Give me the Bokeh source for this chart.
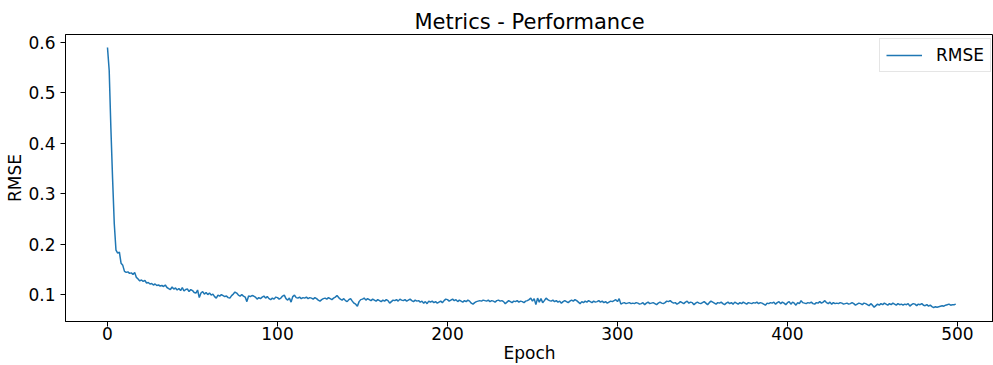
from bokeh.plotting import figure
from bokeh.models import Range1d, Legend, LegendItem, ColumnDataSource, FixedTicker
from bokeh.embed import file_html
from bokeh.resources import INLINE

title_text = "Metrics - Performance"
x_label = "Epoch"
y_label = "RMSE"
series_name = "RMSE"
x_ticks = [0, 100, 200, 300, 400, 500]
y_ticks = [0.1, 0.2, 0.3, 0.4, 0.5, 0.6]

rmse_000_099 = [
    0.590, 0.545, 0.430, 0.330, 0.240, 0.188, 0.182, 0.184, 0.162, 0.158,
    0.146, 0.144, 0.145, 0.142, 0.143, 0.140, 0.144, 0.134, 0.131, 0.127,
    0.129, 0.126, 0.128, 0.123, 0.124, 0.121, 0.122, 0.119, 0.121, 0.118,
    0.119, 0.117, 0.118, 0.116, 0.119, 0.114, 0.112, 0.110, 0.115, 0.111,
    0.113, 0.109, 0.112, 0.108, 0.114, 0.107, 0.110, 0.111, 0.106, 0.110,
    0.108, 0.104, 0.103, 0.109, 0.094, 0.103, 0.106, 0.101, 0.104, 0.100,
    0.103, 0.099, 0.101, 0.096, 0.093, 0.099, 0.097, 0.100, 0.098, 0.096,
    0.097, 0.094, 0.093, 0.098, 0.101, 0.105, 0.103, 0.099, 0.097, 0.100,
    0.097, 0.095, 0.086, 0.097, 0.096, 0.098, 0.097, 0.095, 0.091, 0.094,
    0.092, 0.095, 0.097, 0.093, 0.096, 0.092, 0.090, 0.093, 0.091, 0.095,
]
rmse_100_199 = [
    0.094, 0.091, 0.093, 0.097, 0.099, 0.092, 0.089, 0.093, 0.085, 0.096,
    0.099, 0.094, 0.093, 0.095, 0.092, 0.094, 0.093, 0.095, 0.092, 0.094,
    0.093, 0.091, 0.094, 0.092, 0.089, 0.087, 0.090, 0.092, 0.093, 0.091,
    0.094, 0.092, 0.090, 0.093, 0.095, 0.098, 0.094, 0.091, 0.089, 0.092,
    0.088, 0.086, 0.090, 0.092, 0.087, 0.083, 0.081, 0.077, 0.086, 0.090,
    0.091, 0.093, 0.089, 0.092, 0.090, 0.088, 0.091, 0.089, 0.087, 0.090,
    0.088, 0.086, 0.089, 0.087, 0.090, 0.088, 0.083, 0.086, 0.089, 0.088,
    0.090, 0.087, 0.091, 0.089, 0.088, 0.090, 0.087, 0.089, 0.091, 0.088,
    0.086, 0.089, 0.087, 0.088, 0.085, 0.087, 0.083, 0.086, 0.082, 0.087,
    0.085, 0.087, 0.084, 0.086, 0.083, 0.085, 0.087, 0.084, 0.088, 0.091,
]
rmse_200_299 = [
    0.090, 0.087, 0.089, 0.091, 0.088, 0.090, 0.086, 0.089, 0.087, 0.085,
    0.088, 0.086, 0.089, 0.087, 0.083, 0.081, 0.084, 0.086, 0.087, 0.088,
    0.087, 0.089, 0.088, 0.087, 0.089, 0.086, 0.088, 0.087, 0.085, 0.088,
    0.089, 0.087, 0.088, 0.086, 0.082, 0.085, 0.088, 0.086, 0.084, 0.087,
    0.086, 0.088, 0.085, 0.087, 0.086, 0.084, 0.087, 0.088, 0.090, 0.093,
    0.087, 0.092, 0.080, 0.093, 0.085, 0.092, 0.084, 0.088, 0.093, 0.090,
    0.088, 0.087, 0.089, 0.086, 0.088, 0.085, 0.087, 0.083, 0.086, 0.088,
    0.086, 0.084, 0.087, 0.089, 0.087, 0.090, 0.088, 0.085, 0.082, 0.086,
    0.084, 0.087, 0.085, 0.088, 0.086, 0.084, 0.087, 0.085, 0.086, 0.088,
    0.085, 0.087, 0.084, 0.086, 0.083, 0.085, 0.087, 0.086, 0.088, 0.090,
]
rmse_300_399 = [
    0.086, 0.092, 0.081, 0.083, 0.084, 0.082, 0.083, 0.084, 0.082, 0.083,
    0.082, 0.084, 0.083, 0.081, 0.082, 0.084, 0.080, 0.083, 0.085, 0.082,
    0.083, 0.084, 0.082, 0.080, 0.083, 0.085, 0.083, 0.082, 0.084, 0.087,
    0.086, 0.088, 0.085, 0.083, 0.084, 0.081, 0.083, 0.086, 0.084, 0.082,
    0.085, 0.087, 0.083, 0.085, 0.084, 0.080, 0.083, 0.085, 0.083, 0.082,
    0.084, 0.086, 0.083, 0.080, 0.084, 0.087, 0.085, 0.083, 0.081, 0.084,
    0.083, 0.085, 0.082, 0.080, 0.083, 0.085, 0.082, 0.084, 0.081, 0.085,
    0.083, 0.081, 0.084, 0.082, 0.085, 0.083, 0.081, 0.084, 0.083, 0.082,
    0.084, 0.083, 0.085, 0.082, 0.084, 0.083, 0.081, 0.079, 0.083, 0.082,
    0.084, 0.083, 0.085, 0.081, 0.084, 0.086, 0.082, 0.085, 0.083, 0.080,
]
rmse_400_499 = [
    0.084, 0.086, 0.081, 0.085, 0.083, 0.079, 0.084, 0.082, 0.088, 0.084,
    0.083, 0.082, 0.084, 0.083, 0.085, 0.082, 0.081, 0.084, 0.083, 0.086,
    0.083, 0.085, 0.088, 0.084, 0.082, 0.085, 0.081, 0.084, 0.082, 0.083,
    0.082, 0.084, 0.083, 0.081, 0.082, 0.083, 0.081, 0.082, 0.084, 0.082,
    0.079, 0.081, 0.083, 0.082, 0.080, 0.083, 0.082, 0.080, 0.078, 0.082,
    0.079, 0.075, 0.078, 0.081, 0.079, 0.082, 0.080, 0.083, 0.081, 0.079,
    0.082, 0.080, 0.083, 0.081, 0.079, 0.082, 0.080, 0.081, 0.079, 0.081,
    0.080, 0.082, 0.077, 0.080, 0.082, 0.081, 0.078, 0.081, 0.080, 0.082,
    0.079, 0.078, 0.080, 0.077, 0.079, 0.076, 0.074, 0.076, 0.075, 0.076,
    0.077, 0.078, 0.077, 0.079, 0.080, 0.081, 0.079, 0.080, 0.080, 0.081,
]

rmse = rmse_000_099 + rmse_100_199 + rmse_200_299 + rmse_300_399 + rmse_400_499
epochs = list(range(len(rmse)))

FONT = "DejaVu Sans"
FS = "17px"

X0, X1 = -24.7, 521.2
Y0, Y1 = 0.0466, 0.6158

p = figure(
    width=993, height=365,
    output_backend="svg", toolbar_location=None,
    x_range=Range1d(X0, X1), y_range=Range1d(Y0, Y1),
    min_border_left=65, min_border_right=0, min_border_top=34, min_border_bottom=43,
)
p.title.text = title_text
p.title.align = "center"
p.title.text_font = FONT
p.title.text_font_size = "21px"
p.title.text_font_style = "normal"
p.title.text_color = "black"
p.title.standoff = 2

src = ColumnDataSource(dict(x=epochs, y=rmse))
r = p.line("x", "y", source=src, line_color="#1f77b4", line_width=1.5)

p.xgrid.visible = False
p.ygrid.visible = False
p.outline_line_color = "black"
p.outline_line_width = 1
p.background_fill_color = "white"
p.border_fill_color = "white"

for ax in (p.xaxis[0], p.yaxis[0]):
    ax.axis_line_color = "black"
    ax.major_tick_line_color = "black"
    ax.minor_tick_line_color = None
    ax.major_tick_out = 5
    ax.major_tick_in = 0
    ax.major_label_text_font = FONT
    ax.major_label_text_font_size = FS
    ax.major_label_text_color = "black"
    ax.axis_label_text_font = FONT
    ax.axis_label_text_font_size = FS
    ax.axis_label_text_font_style = "normal"
    ax.axis_label_text_color = "black"

p.xaxis[0].ticker = FixedTicker(ticks=x_ticks)
p.yaxis[0].ticker = FixedTicker(ticks=y_ticks)
p.xaxis[0].axis_label = x_label
p.yaxis[0].axis_label = y_label
p.xaxis[0].major_label_standoff = 0
p.xaxis[0].axis_label_standoff = 0
p.yaxis[0].major_label_standoff = 5
p.yaxis[0].axis_label_standoff = 0

legend = Legend(
    items=[LegendItem(label=series_name, renderers=[r])],
    location=(814, 249),
    label_text_font=FONT, label_text_font_size=FS, label_text_color="black",
    glyph_width=36, glyph_height=20, label_standoff=14,
    padding=6, margin=0, spacing=0,
    border_line_color="#cccccc", border_line_width=1,
    background_fill_alpha=0.8,
)
p.add_layout(legend, "center")

open("out.html", "w").write(file_html(p, INLINE))
